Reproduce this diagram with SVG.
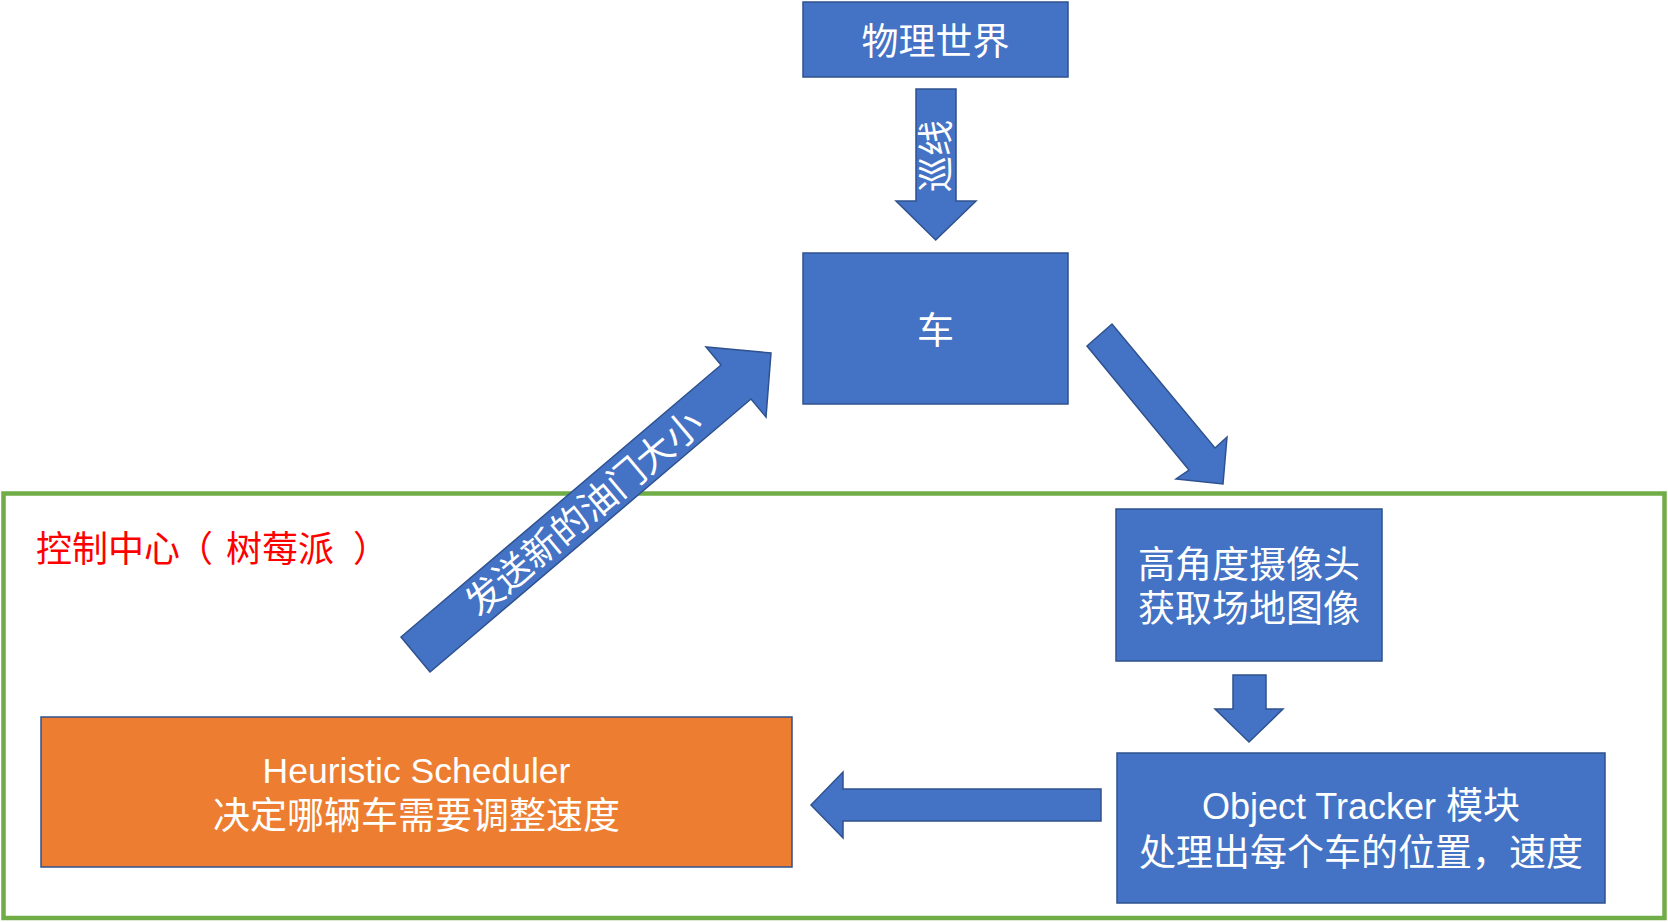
<svg xmlns="http://www.w3.org/2000/svg" width="1668" height="922" viewBox="0 0 1668 922">
<style>
.box{fill:#4472C4;stroke:#2F528F;stroke-width:1.5}
.obox{fill:#ED7D31;stroke:#2F528F;stroke-width:1.5}
.arr{fill:#4472C4;stroke:#2F528F;stroke-width:1.5;stroke-linejoin:miter}
.t{font-family:"Liberation Sans","Noto Sans CJK SC",sans-serif;font-size:37px;fill:#FFFFFF;text-anchor:middle}
.red{font-family:"Noto Sans CJK SC",sans-serif;font-size:36px;fill:#FF0000}
</style>
<rect width="1668" height="922" fill="#FFFFFF"/>
<g id="control-center">
  <rect x="3.5" y="493.5" width="1661" height="424.5" fill="none" stroke="#70AD47" stroke-width="4.5"/>
  <text class="red" y="562"><tspan x="36">控制中心</tspan><tspan x="177">（</tspan><tspan x="226">树莓派</tspan><tspan x="353">）</tspan></text>
</g>
<g id="n-world">
  <rect class="box" x="803" y="2" width="265" height="75"/>
  <text class="t" x="935.5" y="55">物理世界</text>
</g>
<g id="n-car">
  <rect class="box" x="803" y="253" width="265" height="151"/>
  <text class="t" x="935.5" y="344">车</text>
</g>
<g id="n-camera">
  <rect class="box" x="1116" y="509" width="266" height="152"/>
  <text class="t" x="1249" y="578">高角度摄像头</text>
  <text class="t" x="1249" y="622">获取场地图像</text>
</g>
<g id="n-tracker">
  <rect class="box" x="1117" y="753" width="488" height="150"/>
  <text class="t" x="1361" y="819"><tspan style="font-size:36px">Object Tracker </tspan>模块</text>
  <text class="t" x="1361" y="866">处理出每个车的位置，速度</text>
</g>
<g id="n-scheduler">
  <rect class="obox" x="41" y="717" width="751" height="150"/>
  <text class="t" x="416.5" y="783" style="font-size:35.5px">Heuristic Scheduler</text>
  <text class="t" x="416.5" y="829">决定哪辆车需要调整速度</text>
</g>
<g id="connectors">
  <polygon class="arr" points="916,89 956,89 956,201 976,201 935.7,240 896,201 916,201"/>
  <text class="t" style="font-size:36px" transform="translate(936,156) rotate(-90)" x="0" y="13">巡线</text>
  <polygon class="arr" points="1087,346 1112,324 1215,448 1227,437 1223,484 1176,479 1189,470"/>
  <polygon class="arr" points="1233,675 1266,675 1266,709 1283,709 1249,742 1215,709 1233,709"/>
  <polygon class="arr" points="1101,789 1101,821 843,821 843,838 811,805 843,772 843,789"/>
  <polygon class="arr" points="401,637 721,365 706,347 771,353 766,417 751,399 430,672"/>
  <text class="t" transform="translate(584,513) rotate(-40)" x="0" y="13">发送新的油门大小</text>
</g>
</svg>
